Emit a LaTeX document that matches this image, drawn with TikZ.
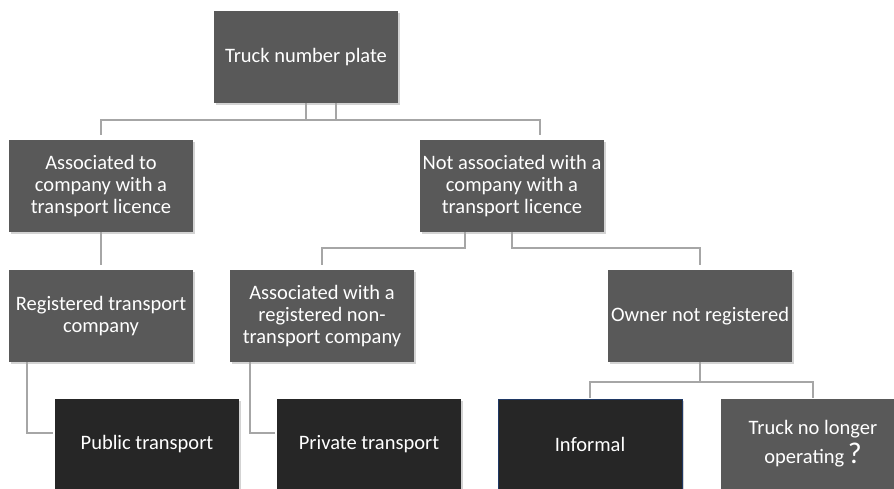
\documentclass[tikz,border=0pt]{standalone}
\usepackage{fontspec}
\setmainfont{Carlito}
\usetikzlibrary{positioning,shadows}
\definecolor{boxg}{HTML}{595959}
\definecolor{boxd}{HTML}{262626}
\definecolor{linkg}{HTML}{A6A6A6}
\definecolor{edgeb}{HTML}{1F3864}
\tikzset{
  box/.style={fill=boxg, text=white, minimum width=184pt, minimum height=92pt,
    align=center, inner sep=1pt, font=\fontsize{20.5}{22}\selectfont,
    drop shadow={opacity=0.35, shadow xshift=1.5pt, shadow yshift=-2pt}},
  leaf/.style={box, fill=boxd, minimum height=90pt},
  link/.style={draw=linkg, line width=2pt}
}
\begin{document}
\begin{tikzpicture}[x=1pt,y=-1pt]
      \useasboundingbox (0,0) rectangle (894,489);
      \node[box] (T) at (306,57) {Truck number plate};
      \node[box] (A) at (101,186) {Associated to\\company with a\\transport licence};
      \node[box] (N) at (512,186) {Not associated with a\\company with a\\transport licence};
      \node[box] (R) at (101,316) {Registered transport\\company};
      \node[box] (P) at (322,316) {Associated with a\\registered non-\\transport company};
      \node[box] (O) at (700,316) {Owner not registered};
      \node[leaf] (Pub) at (147,444) {Public transport};
      \node[leaf] (Pri) at (369,444) {Private transport};
      \node[leaf, draw=edgeb, line width=1pt] (I) at (590,444) {Informal};
      \node[box, minimum height=90pt] (X) at (813,444) {Truck no longer\\[4pt]operating\,{\fontsize{30}{22}\selectfont ?}};
      \draw[link, shorten >=5pt] ([xshift=30pt]T.south) -- ++(0,17) -| (A.north);
      \draw[link, shorten >=5pt] (T.south) -- ++(0,17) -| ([xshift=28pt]N.north);
      \draw[link, shorten >=5pt] ([xshift=-47pt]N.south) -- ++(0,16) -| (P.north);
      \draw[link, shorten >=5pt] (N.south) -- ++(0,16) -| (O.north);
      \draw[link, shorten >=5pt] (A.south) -- (R.north);
      \draw[link, shorten >=2pt] ([xshift=18pt]R.south west) |- ([yshift=11pt]Pub.west);
      \draw[link, shorten >=2pt] ([xshift=20pt]P.south west) |- ([yshift=11pt]Pri.west);
      \draw[link, shorten >=1pt] (O.south) -- ++(0,20) -| (I.north);
      \draw[link, shorten >=1pt] (O.south) -- ++(0,20) -| (X.north);
\end{tikzpicture}
\end{document}
